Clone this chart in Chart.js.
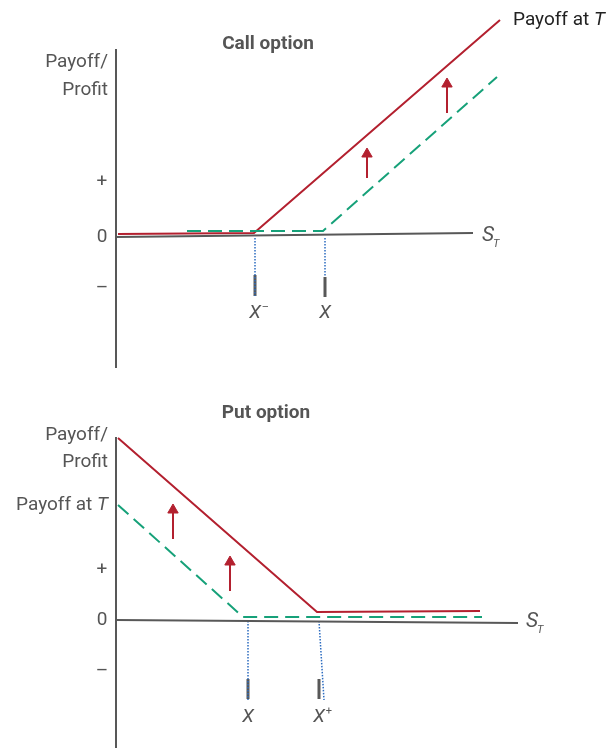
<!DOCTYPE html>
<html><head><meta charset="utf-8">
<script src="https://cdn.jsdelivr.net/npm/chart.js@4"></script>
<style>
body{margin:0;background:#fff;width:609px;height:748px;overflow:hidden;position:relative}
canvas{position:absolute;left:0}
</style>
</head><body>
<canvas id="call" width="609" height="375" style="top:0"></canvas>
<canvas id="put" width="609" height="373" style="top:375px"></canvas>
<script>
// ---------- data (x = underlying price S_T, y = payoff/profit, abstract units) ----------
// Call option
const callYAxis   = [[0, 18.8], [0, -13.1]];
const callXAxis   = [[0, 0], [35.7, 0.4]];
const callPayoff  = [[0.2, 0.3], [13.8, 0.4], [38.4, 21.7]];
const callProfit  = [[7.1, 0.6], [20.7, 0.6], [38.1, 16.0]];
const callArrows  = [[25.1, 5.9, 8.3], [33.1, 12.4, 15.3]];     // x, from, head
const callStrikes = [13.9, 20.9];                                 // X-, X
const callGuides  = [[[13.9, -0.1], [13.9, -5.9]], [[20.9, -0.1], [20.9, -4.0]]];
const callTicks   = [[-3.8, -5.9], [-4.0, -6.0]];
const callYTicks  = [['+', 5.5], ['0', 0], ['\u2013', -5.1]];

// Put option
const putYAxis   = [[0, 18.3], [0, -12.8]];
const putXAxis   = [[0, 0], [40.2, -0.3]];
const putPayoff  = [[0.2, 18.2], [20.1, 0.8], [36.4, 0.9]];
const putProfit  = [[0.2, 11.5], [12.7, 0.3], [36.6, 0.3]];
const putArrows  = [[5.7, 8.1, 11.0], [11.4, 2.9, 5.8]];
const putStrikes = [13.2, 20.3];                                  // X, X+
const putGuides  = [[[13.2, -0.1], [13.2, -8.0]], [[20.3, -0.1], [20.8, -8.0]]];
const putTicks   = [[-5.9, -7.9], [-5.9, -7.9]];
const putYTicks  = [['+', 5.0], ['0', 0], ['\u2013', -5.1]];

// ---------- helpers ----------
const RED = '#b3202f', GREEN = '#16a179', GREY = '#585858', BLUE = '#2c6cc0', TXT = '#555555';
const P = a => a.map(([x, y]) => ({x, y}));
const line = (data, color, width, dash) => ({
  data: P(data), showLine: true, borderColor: color, backgroundColor: color,
  borderWidth: width, borderDash: dash || [], pointRadius: 0, tension: 0, clip: false
});
function arrowSets(arr) {
  return arr.map(([x, a, b]) => ({
    data: P([[x, a], [x, b]]), showLine: true, borderColor: RED, backgroundColor: RED,
    borderWidth: 2, pointRadius: [0, 6], pointStyle: 'triangle', pointBorderWidth: 1, clip: false
  }));
}

// text items: parts drawn one after another; each part {t, font, dx, dy}
const textPlugin = {
  id: 'texts',
  afterDraw(chart) {
    const items = chart.options.plugins.texts.items;
    const ctx = chart.ctx, sx = chart.scales.x, sy = chart.scales.y;
    ctx.save();
    ctx.textBaseline = 'middle'; ctx.textAlign = 'left';
    items.forEach(it => {
      const px = sx.getPixelForValue(it.x), py = sy.getPixelForValue(it.y);
      const parts = it.parts;
      let w = 0;
      parts.forEach(p => { ctx.font = p.font; w += ctx.measureText(p.t).width + (p.dx || 0); });
      let cx;
      if (it.align === 'center') {
        ctx.font = parts[0].font;
        cx = px - (it.mainW ? ctx.measureText(parts[0].t).width / 2 : w / 2);
      } else cx = it.align === 'right' ? px - w : px;
      ctx.fillStyle = it.color || TXT;
      parts.forEach(p => {
        ctx.font = p.font;
        cx += (p.dx || 0);
        ctx.fillText(p.t, cx, py + (p.dy || 0));
        cx += ctx.measureText(p.t).width;
      });
    });
    ctx.restore();
  }
};

function makeChart(id, cfg) {
  const datasets = [
    line(cfg.yAxis, GREY, 2),
    line(cfg.xAxis, GREY, 2),
    ...cfg.guides.map(g => line(g, BLUE, 1.5, [1.5, 1.5])),
    ...cfg.strikes.map((s, i) => line([[s, cfg.ticks[i][0]], [s, cfg.ticks[i][1]]], GREY, 3)),
    line(cfg.profit, GREEN, 2, [14, 7]),
    line(cfg.payoff, RED, 2),
    ...arrowSets(cfg.arrows)
  ];
  return new Chart(document.getElementById(id), {
    type: 'scatter',
    data: { datasets },
    options: {
      responsive: false, animation: false, events: [],
      layout: { padding: 0, autoPadding: false },
      scales: {
        x: { type: 'linear', display: false, min: cfg.xmin, max: cfg.xmax },
        y: { type: 'linear', display: false, min: cfg.ymin, max: cfg.ymax }
      },
      plugins: { legend: { display: false }, tooltip: { enabled: false },
                 texts: { items: cfg.texts } }
    },
    plugins: [textPlugin]
  });
}

const F = '19px Roboto', FI = 'italic 19px Roboto', FB = 'bold 19px Roboto', FS = 'italic 11px Roboto', FSUP = '11px Roboto';

makeChart('call', {
  xmin: -11.6, xmax: 49.3, ymin: -13.8, ymax: 23.7,
  yAxis: callYAxis, xAxis: callXAxis, payoff: callPayoff, profit: callProfit,
  arrows: callArrows, strikes: callStrikes, guides: callGuides, ticks: callTicks,
  texts: [
    {x: 15.2, y: 19.3, align: 'center', parts: [{t: 'Call option', font: FB}]},
    {x: -0.8, y: 17.5, align: 'right', parts: [{t: 'Payoff/', font: F}]},
    {x: -0.8, y: 14.7, align: 'right', parts: [{t: 'Profit', font: F}]},
    {x: 39.7, y: 21.7, color: '#222', parts: [{t: 'Payoff at ', font: F}, {t: 'T', font: FI}]},
    {x: 36.6, y: 0.1, parts: [{t: 'S', font: 'italic 21px Roboto'}, {t: 'T', font: FS, dy: 8, dx: -1}]},
    ...callYTicks.map(([t, y]) => ({x: -1.4, y, align: 'center', parts: [{t, font: F}]})),
    {x: callStrikes[0], y: -7.6, align: 'center', mainW: true, parts: [{t: 'X', font: FI}, {t: '\u2013', font: FSUP, dy: -6, dx: 1}]},
    {x: callStrikes[1], y: -7.6, align: 'center', parts: [{t: 'X', font: FI}]}
  ]
});

makeChart('put', {
  xmin: -11.6, xmax: 49.3, ymin: -12.8, ymax: 24.5,
  yAxis: putYAxis, xAxis: putXAxis, payoff: putPayoff, profit: putProfit,
  arrows: putArrows, strikes: putStrikes, guides: putGuides, ticks: putTicks,
  texts: [
    {x: 15.0, y: 20.7, align: 'center', parts: [{t: 'Put option', font: FB}]},
    {x: -0.8, y: 18.5, align: 'right', parts: [{t: 'Payoff/', font: F}]},
    {x: -0.8, y: 15.8, align: 'right', parts: [{t: 'Profit', font: F}]},
    {x: -0.8, y: 11.5, align: 'right', parts: [{t: 'Payoff at ', font: F}, {t: 'T', font: FI}]},
    {x: 41.0, y: -0.2, parts: [{t: 'S', font: 'italic 21px Roboto'}, {t: 'T', font: FS, dy: 8, dx: -1}]},
    ...putYTicks.map(([t, y]) => ({x: -1.4, y, align: 'center', parts: [{t, font: F}]})),
    {x: putStrikes[0], y: -9.7, align: 'center', parts: [{t: 'X', font: FI}]},
    {x: putStrikes[1], y: -9.7, align: 'center', mainW: true, parts: [{t: 'X', font: FI}, {t: '+', font: FSUP, dy: -6, dx: 1}]}
  ]
});
</script>
</body></html>
